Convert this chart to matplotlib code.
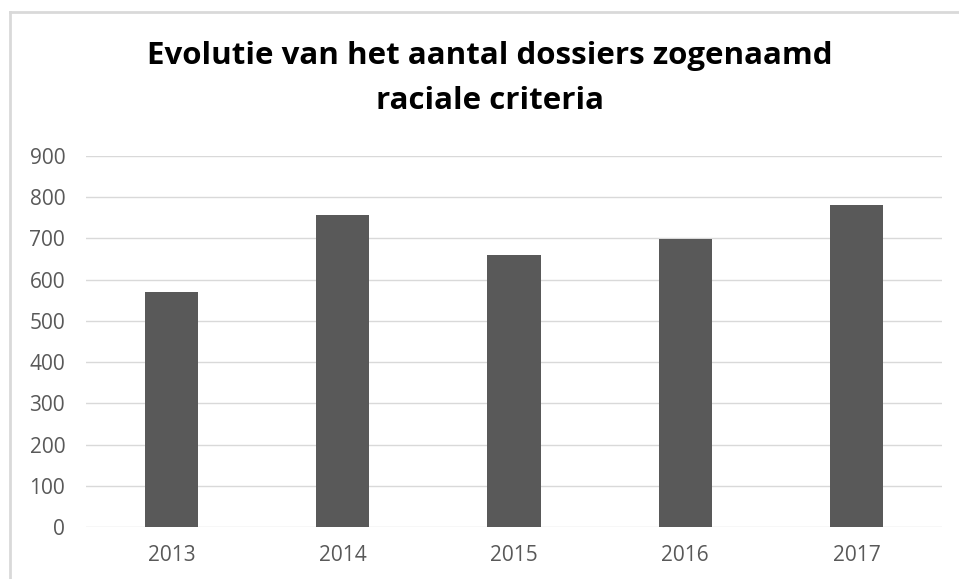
import matplotlib
matplotlib.use('Agg')
import matplotlib.pyplot as plt
from matplotlib.lines import Line2D

# data
years = ['2013', '2014', '2015', '2016', '2017']
dossiers = [570, 757, 661, 698, 782]
yticks = [0, 100, 200, 300, 400, 500, 600, 700, 800, 900]

title_l1 = 'Evolutie van het aantal dossiers zogenaamd'
title_l2 = 'raciale criteria'

plt.rcParams['font.family'] = ['Open Sans', 'DejaVu Sans']

W, H = 959, 579
fig = plt.figure(figsize=(W/100., H/100.), dpi=100)

# chart frame (light grey), left + top visible
fig.add_artist(Line2D([9.5/W, 9.5/W], [0, 1-12/H], color='#d9d9d9', lw=2))
fig.add_artist(Line2D([9.5/W, 1], [1-12/H, 1-12/H], color='#d9d9d9', lw=2))

ax = fig.add_axes([86./W, 1-527./H, (942.-86)/W, (527.-156)/H])
x = range(len(years))
ax.bar(x, dossiers, width=0.31, color='#595959', zorder=3)

ax.set_ylim(0, 900)
ax.set_xlim(-0.5, len(years)-0.5)
ax.set_yticks(yticks)
ax.set_xticks(list(x))
ax.set_xticklabels(years)
ax.yaxis.grid(True, color='#d9d9d9', lw=1, zorder=0)
for s in ax.spines.values():
    s.set_visible(False)
ax.tick_params(axis='both', length=0, colors='#595959', labelsize=15)
ax.tick_params(axis='y', pad=15)
ax.tick_params(axis='x', pad=13)

fig.text(490./W, 1-56./H, title_l1, ha='center', va='center', fontsize=22.5, fontweight='bold', color='black')
fig.text(490./W, 1-101./H, title_l2, ha='center', va='center', fontsize=22.5, fontweight='bold', color='black')

fig.savefig('out.png', dpi=100)
